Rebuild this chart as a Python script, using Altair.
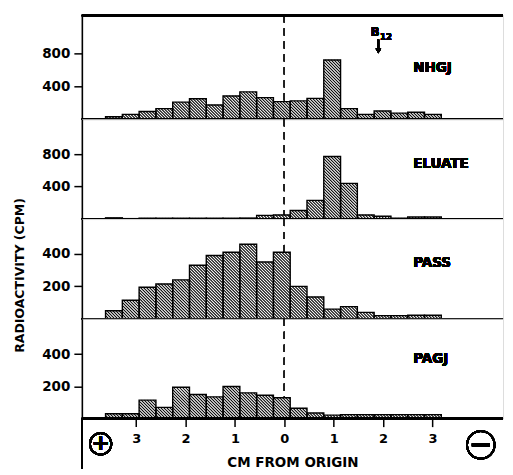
import math
import altair as alt
import pandas as pd

# ---- data ----
bin_start = [-3.62, -3.28, -2.94, -2.60, -2.26, -1.92, -1.58, -1.24, -0.90, -0.56,
             -0.22, 0.12, 0.46, 0.80, 1.14, 1.48, 1.82, 2.16, 2.50, 2.84]
BIN_W = 0.34

nhgj = [30, 60, 95, 130, 210, 250, 175, 285, 335, 265, 215, 225, 255, 725, 130, 60, 100, 75, 85, 60]
eluate = [15, 5, 10, 10, 10, 10, 10, 10, 12, 45, 50, 105, 230, 770, 440, 50, 35, 10, 25, 25]
pass_ = [50, 115, 195, 215, 240, 330, 390, 410, 460, 350, 410, 200, 135, 60, 75, 40, 20, 20, 22, 22]
pagj = [30, 30, 115, 70, 195, 150, 135, 200, 160, 145, 130, 65, 35, 22, 25, 25, 25, 25, 25, 25]

panel_names = ["NHGJ", "ELUATE", "PASS", "PAGJ"]
panel_ymax = [1270, 1230, 615, 620]
panel_ticks = [[400, 800], [400, 800], [200, 400], [200, 400]]
panel_label_y = [631, 677, 343, 372]
x_ticks = [-3, -2, -1, 0, 1, 2, 3]

# ---- layout constants ----
X_MIN, X_MAX = -4.10, 4.43
PLOT_W = 422
PANEL_H = [104, 100, 100, 100]
KX = PLOT_W / (X_MAX - X_MIN)
HATCH = 3.0
FONT = "DejaVu Sans"


def hatch_segments(values, ymax, height):
    ky = height / ymax
    rows = []
    for x0, v in zip(bin_start, values):
        w = BIN_W * KX
        h = v * ky
        px0 = (x0 - X_MIN) * KX
        c = math.floor(px0 / HATCH) * HATCH + HATCH
        while c < px0 + w + h:
            xa = max(px0, c - h)
            xb = min(px0 + w, c)
            if xb > xa:
                rows.append({"hx": X_MIN + xa / KX, "hy": (c - xa) / ky,
                             "hx2": X_MIN + xb / KX, "hy2": (c - xb) / ky})
            c += HATCH
    return pd.DataFrame(rows)


xs = alt.Scale(domain=[X_MIN, X_MAX], nice=False, zero=False)


def make_panel(i, vals):
    ymax = panel_ymax[i]
    h = PANEL_H[i]
    ys = alt.Scale(domain=[0, ymax], nice=False, zero=False)
    df = pd.DataFrame({"x": bin_start, "x2": [b + BIN_W for b in bin_start],
                       "v": vals, "z": [0] * len(vals)})
    if i == 3:
        xa = alt.Axis(values=x_ticks, labelExpr="abs(datum.value)", title="CM FROM ORIGIN",
                      grid=False, domain=False, tickColor="black", tickWidth=1.5, tickSize=8,
                      labelFont=FONT, labelFontWeight="bold", labelFontSize=13, labelColor="black",
                      labelPadding=6, titleFont=FONT, titleFontWeight="bold", titleFontSize=13.5,
                      titleColor="black", titlePadding=10)
    else:
        xa = None
    ya = alt.Axis(values=panel_ticks[i], title=("RADIOACTIVITY (CPM)" if i == 2 else None),
                  grid=False, domainColor="black", domainWidth=1.6, tickColor="black",
                  tickWidth=1.5, tickSize=8, labelFont=FONT, labelFontWeight="bold",
                  labelFontSize=13.5, labelColor="black", labelPadding=4,
                  titleFont=FONT, titleFontWeight="bold", titleFontSize=12.5,
                  titleColor="black", titlePadding=15, titleY=56)

    def X(v, **kw):
        return alt.X(v, scale=xs, axis=xa, **kw)

    def Y(v, **kw):
        return alt.Y(v, scale=ys, axis=ya, **kw)

    def XD(v):
        return alt.XDatum(v, scale=xs, axis=xa)

    def YD(v):
        return alt.YDatum(v, scale=ys, axis=ya)

    base = alt.Chart(df)
    dash = base.mark_rule(strokeDash=[7, 6], color="#222222", strokeWidth=0.8).encode(x=XD(0))
    bars = base.mark_rect(fill="white").encode(
        x=X("x:Q"), x2="x2:Q", y=Y("v:Q"), y2="z:Q")
    hatch = alt.Chart(hatch_segments(vals, ymax, h)).mark_rule(color="black", strokeWidth=1.05).encode(
        x=X("hx:Q"), x2="hx2:Q", y=Y("hy:Q"), y2="hy2:Q")
    outline = base.mark_rect(fillOpacity=0, stroke="black", strokeWidth=1.4).encode(
        x=X("x:Q"), x2="x2:Q", y=Y("v:Q"), y2="z:Q")
    baseline = base.mark_rule(color="black", strokeWidth=1.6).encode(y=YD(0))
    label = base.mark_text(text=panel_names[i], font=FONT, fontWeight="bold", fontSize=13.5,
                           align="left", baseline="middle", color="black").encode(
        x=XD(2.61), y=YD(panel_label_y[i]))
    layers = [dash, bars, hatch, outline, baseline, label]

    if i == 0:
        top = base.mark_rule(color="black", strokeWidth=1.6).encode(y=YD(ymax))
        b_txt = base.mark_text(text="B", font=FONT, fontWeight="bold", fontSize=11.5,
                               align="left", baseline="alphabetic", color="black").encode(
            x=XD(1.75), y=YD(1018))
        sub_txt = base.mark_text(text="12", font=FONT, fontWeight="bold", fontSize=8.5,
                                 align="left", baseline="alphabetic", color="black").encode(
            x=XD(1.94), y=YD(972))
        arrow = base.mark_rule(color="black", strokeWidth=1.5).encode(
            x=XD(1.906), y=YD(975), y2=alt.datum(840))
        head = base.mark_point(shape="triangle-down", filled=True, color="black", size=30,
                               opacity=1).encode(x=XD(1.906), y=YD(835))
        layers += [top, b_txt, sub_txt, arrow, head]

    if i == 3:
        ext = base.mark_rule(color="black", strokeWidth=1.6).encode(
            x=XD(X_MIN), y=YD(0), y2=alt.datum(-310))
        circ_p = base.mark_point(shape="circle", size=460, color="black", strokeWidth=1.8,
                                 filled=False, opacity=1).encode(x=XD(-3.72), y=YD(-157))
        circ_m = base.mark_point(shape="circle", size=760, color="black", strokeWidth=1.8,
                                 filled=False, opacity=1).encode(x=XD(3.98), y=YD(-163))
        plus = base.mark_text(text="+", font=FONT, fontWeight="bold", fontSize=22,
                              align="center", baseline="middle", color="black").encode(
            x=XD(-3.72), y=YD(-152))
        minus = base.mark_rule(color="black", strokeWidth=3).encode(
            x=XD(3.80), x2=alt.datum(4.16), y=YD(-163))
        layers += [ext, circ_p, circ_m, plus, minus]

    return alt.layer(*layers).properties(width=PLOT_W, height=h)


series = [nhgj, eluate, pass_, pagj]
chart = alt.vconcat(*[make_panel(i, s) for i, s in enumerate(series)], spacing=0, bounds="flush")
chart = chart.properties(padding={"left": 5, "top": 5, "right": 0, "bottom": 0}).configure_view(
    stroke=None).configure(font=FONT)

chart.save("out.html", embed_options={"renderer": "svg", "actions": False})
